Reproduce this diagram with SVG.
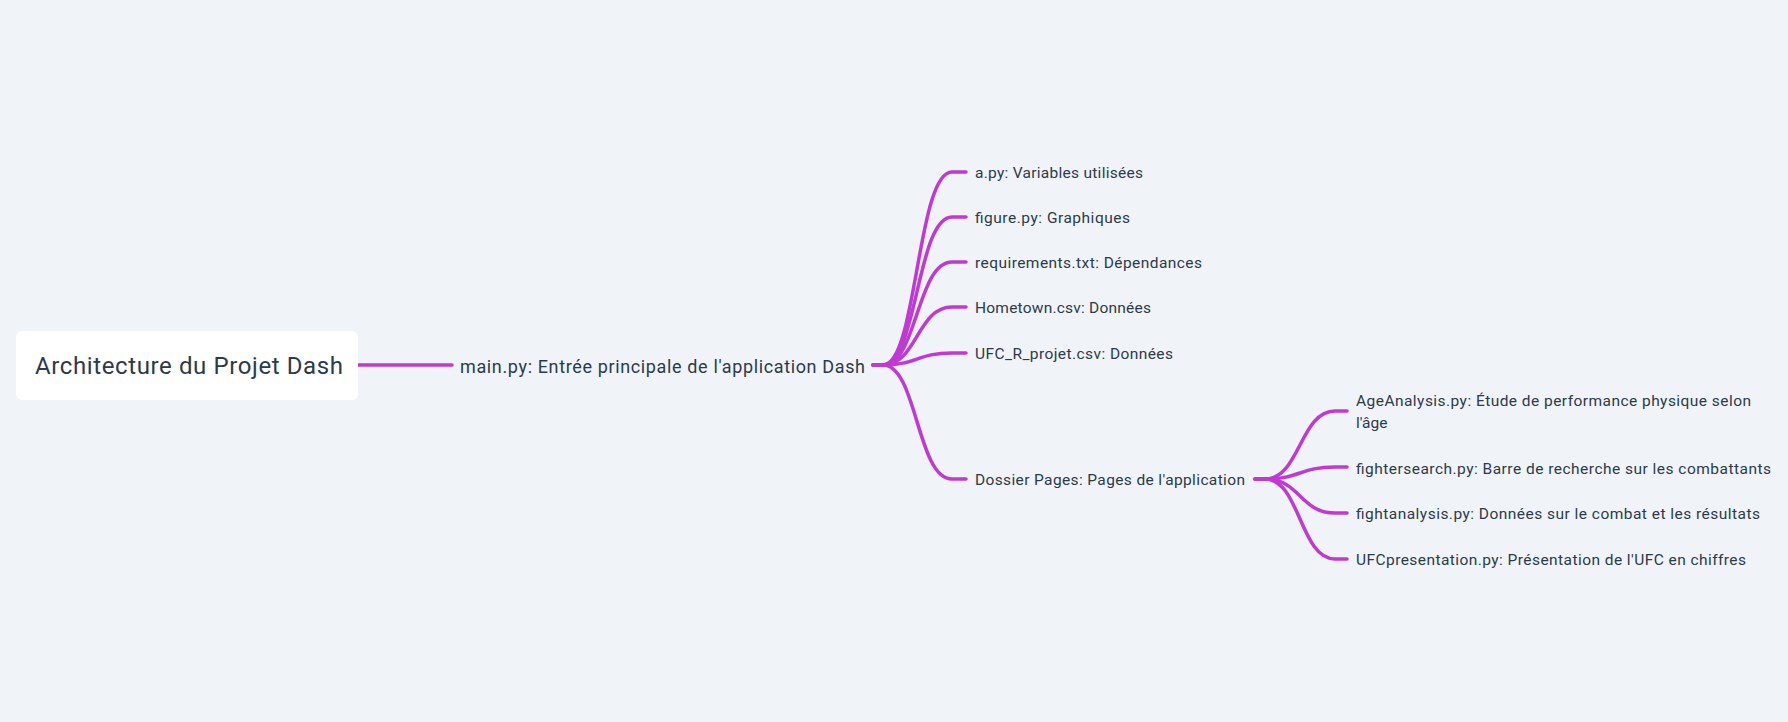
<svg xmlns="http://www.w3.org/2000/svg" width="1788" height="722" viewBox="0 0 1788 722">
<style>
.bg{fill:#f0f4f8}
.lnk{fill:none;stroke:#c039d3;stroke-width:3.5;stroke-linecap:round}
.t{font-family:Roboto,"Noto Sans",sans-serif;fill:#2c3a4a}
.s{font-size:15.5px}
</style>
<rect class="bg" x="0" y="0" width="1788" height="722"/>
<g id="connectors">
<path class="lnk" d="M358,365 L452,365"/>
<path class="lnk" d="M873,365 L883,365 C917,365 917,172 952,172 L966,172"/>
<path class="lnk" d="M873,365 L883,365 C917,365 917,217 952,217 L966,217"/>
<path class="lnk" d="M873,365 L883,365 C917,365 917,262 952,262 L966,262"/>
<path class="lnk" d="M873,365 L883,365 C917,365 917,307 952,307 L966,307"/>
<path class="lnk" d="M873,365 L883,365 C917,365 917,353 952,353 L966,353"/>
<path class="lnk" d="M873,365 L883,365 C917,365 917,479 952,479 L966,479"/>
<path class="lnk" d="M1255,479 L1265,479 C1300,479 1300,411 1335,411 L1347,411"/>
<path class="lnk" d="M1255,479 L1265,479 C1300,479 1300,467 1335,467 L1347,467"/>
<path class="lnk" d="M1255,479 L1265,479 C1300,479 1300,513 1335,513 L1347,513"/>
<path class="lnk" d="M1255,479 L1265,479 C1300,479 1300,559 1335,559 L1347,559"/>
</g>
<g id="root">
<rect x="16" y="331" width="342" height="69" rx="6" fill="#ffffff"/>
<text class="t" x="35" y="374" font-size="24" textLength="308" lengthAdjust="spacing">Architecture du Projet Dash</text>
</g>
<g id="main">
<text class="t" x="460" y="373" font-size="18" textLength="405" lengthAdjust="spacing">main.py: Entrée principale de l'application Dash</text>
</g>
<g id="apy"><text class="t s" x="975" y="178" textLength="168" lengthAdjust="spacing">a.py: Variables utilisées</text></g>
<g id="figure"><text class="t s" x="975" y="223" textLength="155" lengthAdjust="spacing">figure.py: Graphiques</text></g>
<g id="requirements"><text class="t s" x="975" y="268" textLength="227" lengthAdjust="spacing">requirements.txt: Dépendances</text></g>
<g id="hometown"><text class="t s" x="975" y="313" textLength="176" lengthAdjust="spacing">Hometown.csv: Données</text></g>
<g id="ufcr"><text class="t s" x="975" y="359" textLength="198" lengthAdjust="spacing">UFC_R_projet.csv: Données</text></g>
<g id="pages"><text class="t s" x="975" y="485" textLength="270" lengthAdjust="spacing">Dossier Pages: Pages de l'application</text></g>
<g id="age"><text class="t s" x="1356" y="406" textLength="395" lengthAdjust="spacing">AgeAnalysis.py: Étude de performance physique selon</text><text class="t s" x="1356" y="428">l'âge</text></g>
<g id="fightersearch"><text class="t s" x="1356" y="474" textLength="415" lengthAdjust="spacing">fightersearch.py: Barre de recherche sur les combattants</text></g>
<g id="fightanalysis"><text class="t s" x="1356" y="519" textLength="404" lengthAdjust="spacing">fightanalysis.py: Données sur le combat et les résultats</text></g>
<g id="ufcpres"><text class="t s" x="1356" y="565" textLength="390" lengthAdjust="spacing">UFCpresentation.py: Présentation de l'UFC en chiffres</text></g>
</svg>
